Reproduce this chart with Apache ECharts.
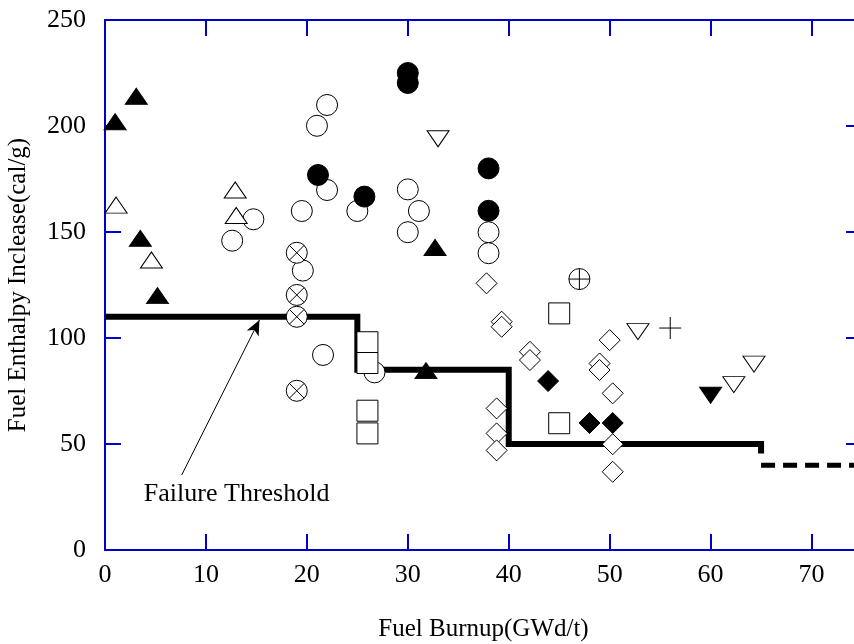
<!DOCTYPE html>
<html>
<head>
<meta charset="utf-8">
<title>Fuel enthalpy vs burnup</title>
<script src="https://cdn.jsdelivr.net/npm/echarts@6/dist/echarts.min.js"></script>
<style>
  html, body { margin: 0; padding: 0; background: #fff; }
  #chart { width: 854px; height: 644px; }
</style>
</head>
<body>
<div id="chart"></div>
<script>
// points, [burnup, enthalpy]
const filledTriUp = [[1.0, 202], [3.1, 214], [3.5, 147], [5.2, 120], [32.7, 142.7], [31.8, 84.6]];
const openTriUp = [[1.1, 162.7], [12.9, 169.8], [13.0, 157.8], [4.6, 136.8]];
const openCircle = [
  [22.0, 209.9], [21.0, 200.1], [22.0, 169.8], [25.0, 159.9], [19.5, 159.9], [19.6, 131.8],
  [14.7, 156], [12.6, 145.9], [30.0, 170.1], [31.1, 159.9], [30.0, 149.9], [38.0, 149.9],
  [38.0, 140], [21.6, 92], [26.7, 83.8]
];
const filledCircle = [[21.1, 176.9], [25.7, 166.7], [30.0, 225], [30.0, 220.3], [38.0, 180], [38.0, 160]];
const crossCircle = [[19.0, 140.2], [19.0, 120.3], [19.0, 110], [19.0, 75.1]];
const plusCircle = [[47.0, 127.8]];
const openSquare = [[26.0, 98], [26.0, 88.2], [26.0, 65.7], [26.0, 55], [45.0, 111.6], [45.0, 59.8]];
const openDiamond = [
  [37.8, 125.8], [39.3, 107.7], [39.3, 105.3], [42.1, 93.5], [42.1, 89.6], [38.8, 66.8],
  [38.8, 55], [38.8, 47], [50.0, 99], [49.0, 88], [49.0, 84.9], [50.3, 73.9], [50.3, 49.9], [50.3, 36.9]
];
const filledDiamond = [[43.9, 79.7], [48.0, 59.9], [50.3, 59.9]];
const openTriDown = [[33.0, 194], [52.8, 103], [62.3, 78], [64.3, 87.7]];
const filledTriDown = [[60.0, 73]];
const plusMark = [[56.0, 104.7]];

// failure threshold steps
const threshold = [[0, 110], [25, 110], [25, 85], [40, 85], [40, 50], [65, 50], [65, 45.5]];
const thresholdHigh = [[65, 40], [75, 40]];
const arrowFrom = [7.6, 35.4];
const arrowTo = [15.3, 108.5];
const noteAt = [3.8, 26.5];

const xTicks = [0, 10, 20, 30, 40, 50, 60, 70];
const yTicks = [0, 50, 100, 150, 200, 250];

const blue = '#0000cc';
const serif = 'Liberation Serif';

const chart = echarts.init(document.getElementById('chart'));

const axisBase = {
  type: 'value',
  axisLine: { show: true, onZero: false, lineStyle: { color: blue, width: 2 } },
  axisTick: { show: true, inside: true, length: 16, lineStyle: { color: blue, width: 2 } },
  splitLine: { show: false }
};

const circlePath = 'M10,0A10,10,0,1,1,-10,0A10,10,0,1,1,10,0Z';
const crossPath = 'path://' + circlePath + 'M-7.07,-7.07L7.07,7.07M7.07,-7.07L-7.07,7.07';
const plusCirclePath = 'path://' + circlePath + 'M-10,0L10,0M0,-10L0,10';

function pts(data, symbol, size, filled, extra) {
  return Object.assign({
    type: 'scatter',
    data: data,
    symbol: symbol,
    symbolSize: size,
    z: 5,
    itemStyle: filled
      ? { color: '#000', borderColor: '#000', borderWidth: 1, opacity: 1 }
      : { color: '#fff', borderColor: '#000', borderWidth: 1, opacity: 1 }
  }, extra || {});
}

chart.setOption({
  animation: false,
  grid: { left: 105, top: 20, width: 757, height: 530, containLabel: false, outerBoundsMode: 'none' },
  xAxis: [
    Object.assign({}, axisBase, {
      position: 'bottom', min: 0, max: 75, interval: 10,
      axisLabel: {
        color: '#000', fontFamily: serif, fontSize: 26, margin: 12, showMaxLabel: false,
        formatter: v => (xTicks.indexOf(v) >= 0 ? String(v) : '')
      },
      name: 'Fuel Burnup(GWd/t)', nameLocation: 'middle', nameGap: 67,
      nameTextStyle: { color: '#000', fontFamily: serif, fontSize: 25 }
    }),
    Object.assign({}, axisBase, {
      position: 'top', min: 0, max: 75, interval: 10, axisLabel: { show: false }
    })
  ],
  yAxis: [
    Object.assign({}, axisBase, {
      position: 'left', min: 0, max: 250, interval: 50,
      axisLabel: {
        color: '#000', fontFamily: serif, fontSize: 26, margin: 19,
        formatter: v => (yTicks.indexOf(v) >= 0 ? String(v) : '')
      },
      name: 'Fuel Enthalpy Inclease(cal/g)', nameLocation: 'middle', nameGap: 74,
      nameTextStyle: { color: '#000', fontFamily: serif, fontSize: 25 }
    }),
    Object.assign({}, axisBase, {
      position: 'right', min: 0, max: 250, interval: 50, axisLabel: { show: false }
    })
  ],
  series: [
    {
      type: 'line',
      data: threshold,
      symbol: 'none',
      clip: false,
      z: 2,
      lineStyle: { color: '#000', width: 6, cap: 'butt', join: 'miter' },
      markLine: {
        silent: true,
        symbol: ['none', 'arrow'],
        symbolSize: [10, 15],
        label: { show: false },
        lineStyle: { color: '#000', width: 1, type: 'solid' },
        data: [[{ coord: arrowFrom }, { coord: arrowTo }]]
      }
    },
    {
      type: 'line',
      data: thresholdHigh,
      symbol: 'none',
      clip: false,
      z: 2,
      lineStyle: { color: '#000', width: 5, type: [14, 8], cap: 'butt' }
    },
    {
      type: 'scatter',
      data: [noteAt],
      symbol: 'circle',
      symbolSize: 1,
      silent: true,
      itemStyle: { color: 'rgba(0,0,0,0)', opacity: 1 },
      label: {
        show: true, position: 'right', distance: 0,
        formatter: 'Failure Threshold',
        color: '#000', fontFamily: serif, fontSize: 26
      }
    },
    pts(openCircle, 'circle', 21, false),
    pts(filledCircle, 'circle', 21, true),
    pts(crossCircle, crossPath, 21, false),
    pts(plusCircle, plusCirclePath, 21, false),
    pts(openSquare, 'rect', 21, false),
    pts(openDiamond, 'diamond', 21, false),
    pts(filledDiamond, 'diamond', 21, true),
    pts(openTriUp, 'triangle', [22, 16], false),
    pts(filledTriUp, 'triangle', [22, 16], true),
    pts(openTriDown, 'triangle', [22, 16], false, { symbolRotate: 180 }),
    pts(filledTriDown, 'triangle', [22, 16], true, { symbolRotate: 180 }),
    {
      type: 'scatter',
      data: plusMark,
      symbol: 'path://M-10,0L10,0M0,-10L0,10',
      symbolSize: 22,
      z: 5,
      itemStyle: { color: 'none', borderColor: '#000', borderWidth: 1, opacity: 1 }
    }
  ]
});
</script>
</body>
</html>
